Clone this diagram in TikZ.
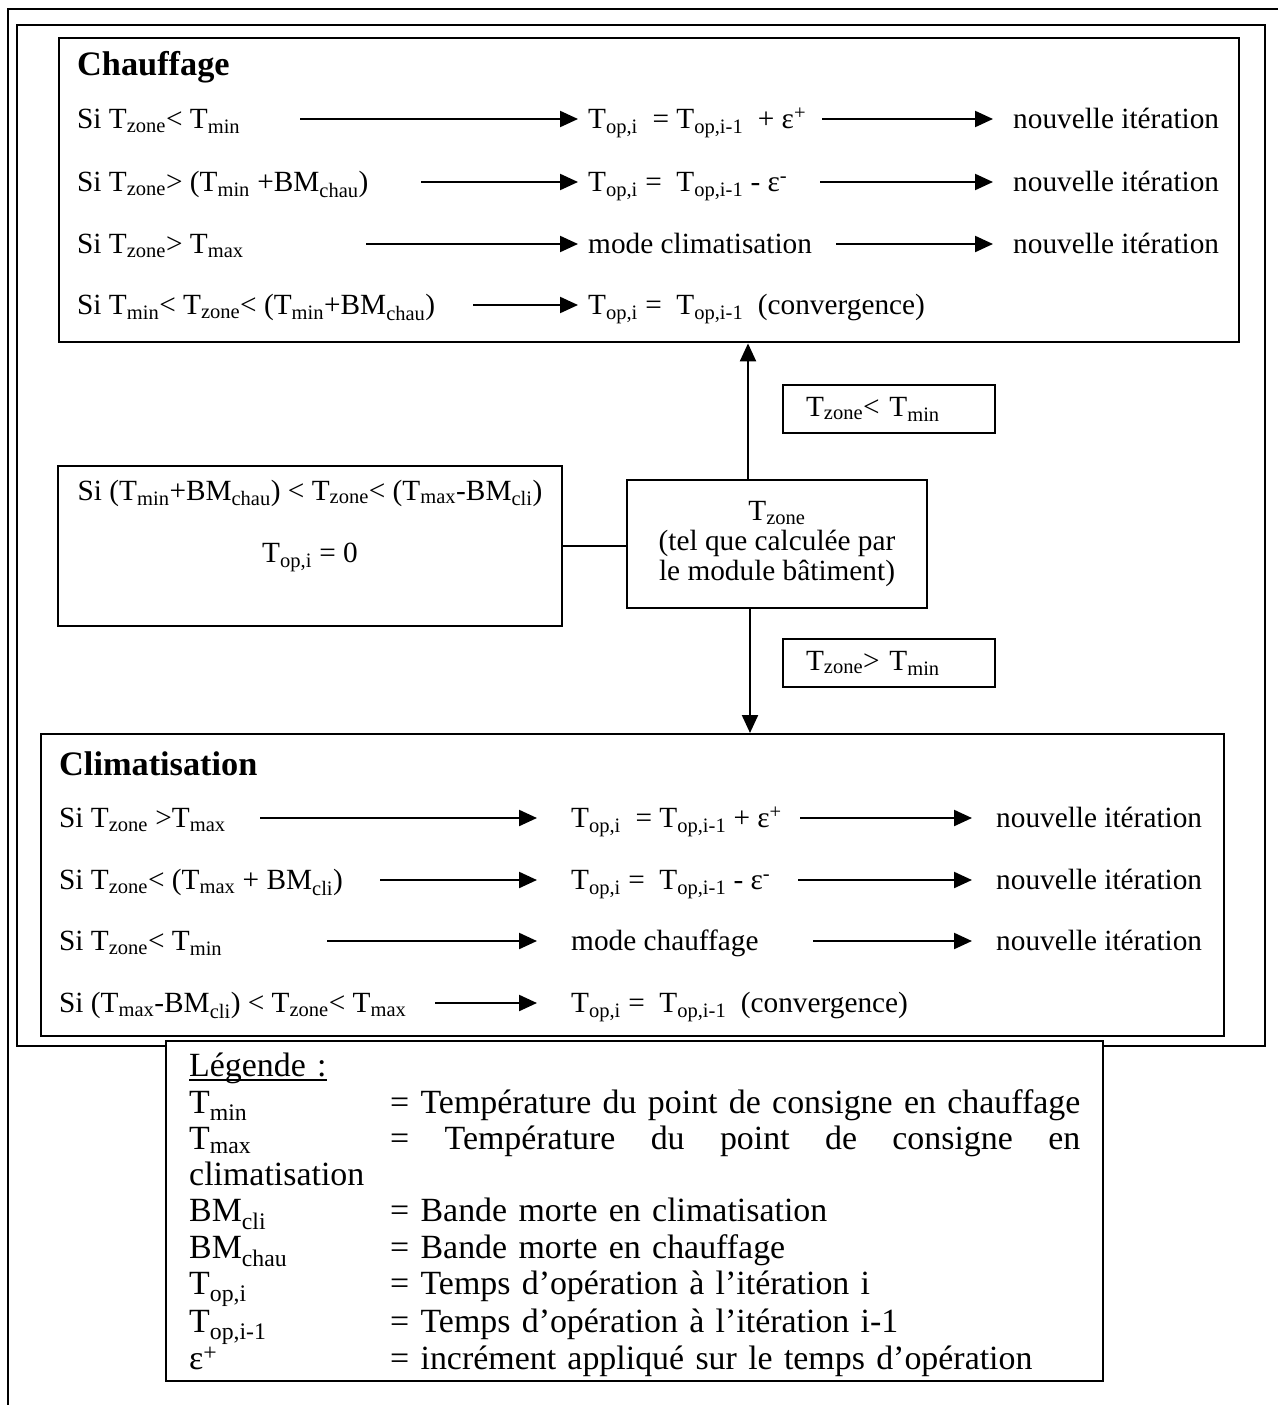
\documentclass[tikz,border=0pt]{standalone}
\usepackage{fontspec}
\setmainfont{Liberation Serif}
\usetikzlibrary{arrows.meta,positioning,calc}
\newcommand{\Ts}[1]{T\textsubscript{#1}}
\newcommand{\BMs}[1]{BM\textsubscript{#1}}
\newcommand{\epsp}{ε\textsuperscript{+}}
\newcommand{\epsm}{ε\textsuperscript{-}}
\newcommand{\ulegend}[1]{\setbox0\hbox{#1}\rlap{\rule[-4pt]{\wd0}{1.6pt}}\box0}
\tikzset{
  frame/.style={line width=1.8pt},
  panel/.style={draw,line width=2.4pt,fill=white,inner sep=0pt},
  cond/.style={panel,minimum width=212pt,minimum height=48pt,text width=166pt,
               inner xsep=23pt,font=\fontsize{29.3}{30}\selectfont},
  row/.style={anchor=west,inner sep=0pt,text height=19.4pt,text depth=0pt,
              font=\fontsize{29.3}{30}\selectfont},
  ttl/.style={anchor=base west,inner sep=0pt,font=\fontsize{34.3}{36}\selectfont\bfseries},
  flow/.style={-{Triangle[length=18pt,width=16pt]},line width=2.2pt},
}
\begin{document}
\begin{tikzpicture}[x=1pt,y=-1pt]
  \useasboundingbox (0,0) rectangle (1278,1405);
  \draw[frame] (8,1405) -- (8,9) -- (1278,9);
  \draw[frame] (17,25) rectangle (1265,1046);

  % chauffage
  \node[panel,anchor=north west,minimum width=1180pt,minimum height=304pt] (chauf) at (58,37) {};
  \node[ttl] (chauft) at (77,75) {Chauffage};
  \node[row] (ch1) at (77,119) {Si \Ts{zone}< \Ts{min}};
  \node[row] (ch2) at (77,182) {Si \Ts{zone}> (\Ts{min} +\BMs{chau})};
  \node[row] (ch3) at (77,244) {Si \Ts{zone}> \Ts{max}};
  \node[row] (ch4) at (77,305) {Si \Ts{min}< \Ts{zone}< (\Ts{min}+\BMs{chau})};
  \node[row] (cm1) at (588,119) {\Ts{op,i}\ \ = \Ts{op,i-1}\ \ + \epsp};
  \node[row] (cm2) at (588,182) {\Ts{op,i} =\ \ \Ts{op,i-1}\ - \epsm};
  \node[row] (cm3) at (588,244) {mode climatisation};
  \node[row] (cm4) at (588,305) {\Ts{op,i} =\ \ \Ts{op,i-1}\ \ (convergence)};
  \foreach \i/\y in {1/119,2/182,3/244}
    \node[row] (cn\i) at (1013,\y) {nouvelle itération};
  \foreach \i/\x in {1/300,2/421,3/366,4/473}{
    \coordinate (ca\i) at (\x,0 |- cm\i.west);
    \draw[flow,shorten >=10pt] (ca\i) -- (cm\i.west);
  }
  \foreach \i/\x in {1/822,2/820,3/836}{
    \coordinate (cb\i) at (\x,0 |- cn\i.west);
    \draw[flow,shorten >=20pt] (cb\i) -- (cn\i.west);
  }

  % zone
  \node[panel,minimum width=300pt,minimum height=128pt,align=center,
        font=\fontsize{29.3}{30}\selectfont] (tz) at (777,544)
        {\Ts{zone}\\(tel que calculée par\\le module bâtiment)};
  \node[panel,minimum width=504pt,minimum height=160pt,align=center,
        font=\fontsize{29.3}{30}\selectfont] (zero) at (310,546)
        {Si (\Ts{min}+\BMs{chau}) < \Ts{zone}< (\Ts{max}-\BMs{cli})\\[32pt]\Ts{op,i} = 0\\[20pt]\mbox{}};
  \draw[frame] (zero.east) -- (zero.east -| tz.west);
  \node[cond] (lbl1) at (889,409) {\Ts{zone}< \Ts{min}};
  \node[cond] (lbl2) at (889,663) {\Ts{zone}> \Ts{min}};

  % climatisation
  \node[panel,anchor=north west,minimum width=1183pt,minimum height=302pt] (clim) at (40,733) {};
  \node[ttl] (climt) at (59,775) {Climatisation};
  \node[row] (cl1) at (59,818) {Si \Ts{zone} >\Ts{max}};
  \node[row] (cl2) at (59,880) {Si \Ts{zone}< (\Ts{max} + \BMs{cli})};
  \node[row] (cl3) at (59,941) {Si \Ts{zone}< \Ts{min}};
  \node[row] (cl4) at (59,1003) {Si (\Ts{max}-\BMs{cli}) < \Ts{zone}< \Ts{max}};
  \node[row] (km1) at (571,818) {\Ts{op,i}\ \ = \Ts{op,i-1}\ + \epsp};
  \node[row] (km2) at (571,880) {\Ts{op,i} =\ \ \Ts{op,i-1}\ - \epsm};
  \node[row] (km3) at (571,941) {mode chauffage};
  \node[row] (km4) at (571,1003) {\Ts{op,i} =\ \ \Ts{op,i-1}\ \ (convergence)};
  \foreach \i/\y in {1/818,2/880,3/941}
    \node[row] (kn\i) at (996,\y) {nouvelle itération};
  \foreach \i/\x in {1/260,2/380,3/327,4/435}{
    \coordinate (ka\i) at (\x,0 |- km\i.west);
    \draw[flow,shorten >=34pt] (ka\i) -- (km\i.west);
  }
  \foreach \i/\x in {1/800,2/798,3/813}{
    \coordinate (kb\i) at (\x,0 |- kn\i.west);
    \draw[flow,shorten >=24pt] (kb\i) -- (kn\i.west);
  }

  % links
  \coordinate (tzup) at ([xshift=-29pt]tz.north);
  \draw[flow] (tzup) -- (tzup |- chauf.south);
  \coordinate (tzdn) at ([xshift=-27pt]tz.south);
  \draw[flow] (tzdn) -- (tzdn |- clim.north);

  % legende
  \node[panel,anchor=north west,text width=891pt,inner xsep=23pt,align=left,
        minimum height=340pt,font=\fontsize{33.9}{36.3}\selectfont] (leg) at (165,1040) {%
    \begin{tabular}{@{}p{201pt}@{}l@{}}
      \rule{0pt}{35pt}\ulegend{Légende :} & \\
      \Ts{min} & = Température du point de consigne en chauffage\\
      \Ts{max} & \makebox[690pt][l]{=\hfill Température\hfill du\hfill point\hfill de\hfill consigne\hfill en}\\
      \multicolumn{2}{@{}l@{}}{climatisation}\\
      \BMs{cli} & = Bande morte en climatisation\\
      \BMs{chau} & = Bande morte en chauffage\\
      \Ts{op,i} & = Temps d’opération à l’itération i\\
      \Ts{op,i-1} & = Temps d’opération à l’itération i-1\\
      ε\textsuperscript{+} & = incrément appliqué sur le temps d’opération
    \end{tabular}};
\end{tikzpicture}
\end{document}
